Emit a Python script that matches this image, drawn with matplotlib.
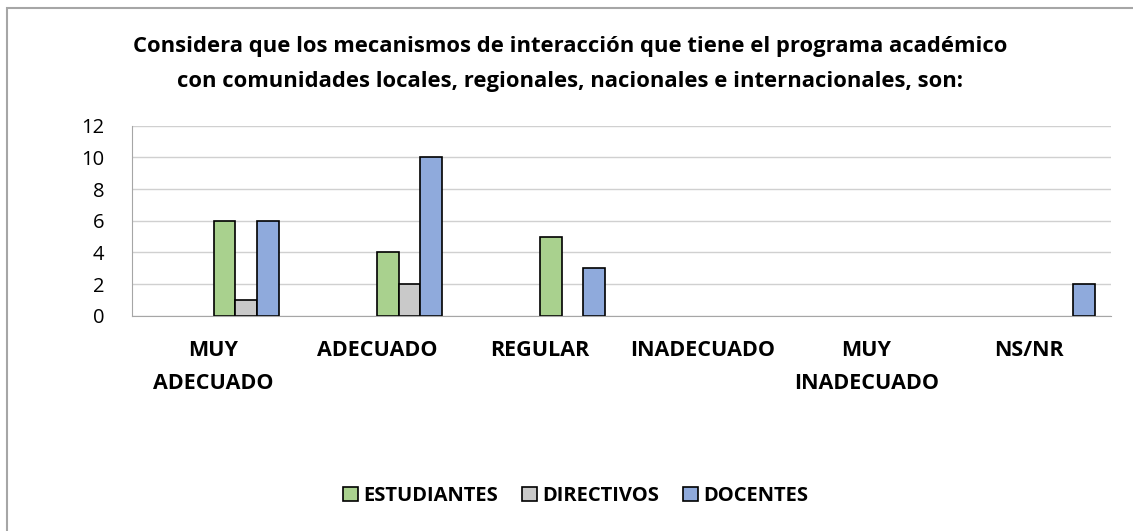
import numpy as np
import matplotlib.pyplot as plt
from matplotlib.patches import Rectangle

# Datos de la encuesta
categorias = ['MUY\nADECUADO', 'ADECUADO', 'REGULAR', 'INADECUADO', 'MUY\nINADECUADO', 'NS/NR']
estudiantes = [6, 4, 5, 0, 0, 0]
directivos = [1, 2, 0, 0, 0, 0]
docentes = [6, 10, 3, 0, 0, 2]
series = ['ESTUDIANTES', 'DIRECTIVOS', 'DOCENTES']
colores = ['#A9D18E', '#C9C9C9', '#8FAADC']

plt.rcParams['font.family'] = ['Open Sans', 'DejaVu Sans']

fig = plt.figure(figsize=(11.33, 5.31), dpi=100)
ax = fig.add_axes([0.1165, 0.405, 0.8641, 0.3585])

x = np.arange(len(categorias))
ancho = 0.1333
desplaz = [0.0667, 0.2, 0.3333]  # Excel deja huecos para series vacías
for vals, nombre, col, d in zip([estudiantes, directivos, docentes], series, colores, desplaz):
    alturas = np.where(np.array(vals) > 0, vals, np.nan)  # los ceros no se dibujan
    ax.bar(x + d, alturas, ancho, color=col, edgecolor='black', linewidth=1.2, label=nombre, zorder=3)

ax.set_xlim(-0.5, len(categorias) - 0.5)
ax.set_ylim(0, 12)
ax.set_yticks(range(0, 13, 2))
ax.set_xticks(x)
ax.set_xticklabels(categorias, fontweight='bold', fontsize=15.5, linespacing=1.8)
ax.tick_params(axis='x', length=0, pad=17)
ax.tick_params(axis='y', length=0, pad=20, labelsize=14.5)
ax.grid(axis='y', color='#D0D0D0', linewidth=1, zorder=0)
for s in ['top', 'right']:
    ax.spines[s].set_visible(False)
ax.spines['left'].set_color('#A6A6A6')
ax.spines['bottom'].set_color('#A6A6A6')
ax.spines['left'].set_zorder(4)
ax.spines['bottom'].set_zorder(4)

fig.text(0.503, 0.88, 'Considera que los mecanismos de interacción que tiene el programa académico\n'
         'con comunidades locales, regionales, nacionales e internacionales, son:',
         ha='center', va='center', fontsize=15.8, fontweight='bold', linespacing=1.85)

fig.legend(loc='center', bbox_to_anchor=(0.508, 0.066), ncol=3, frameon=False,
           prop={'weight': 'bold', 'size': 14.5}, handlelength=0.75, handleheight=0.75,
           columnspacing=1.2, handletextpad=0.25)

# borde del área del gráfico (solo izquierda y arriba visibles)
fig.patches.append(Rectangle((6.5 / 1133, -0.1), 2, 1.1 - 7.5 / 531, transform=fig.transFigure,
                             fill=False, edgecolor='#A6A6A6', linewidth=1.5))

fig.savefig('out.png', dpi=100)
